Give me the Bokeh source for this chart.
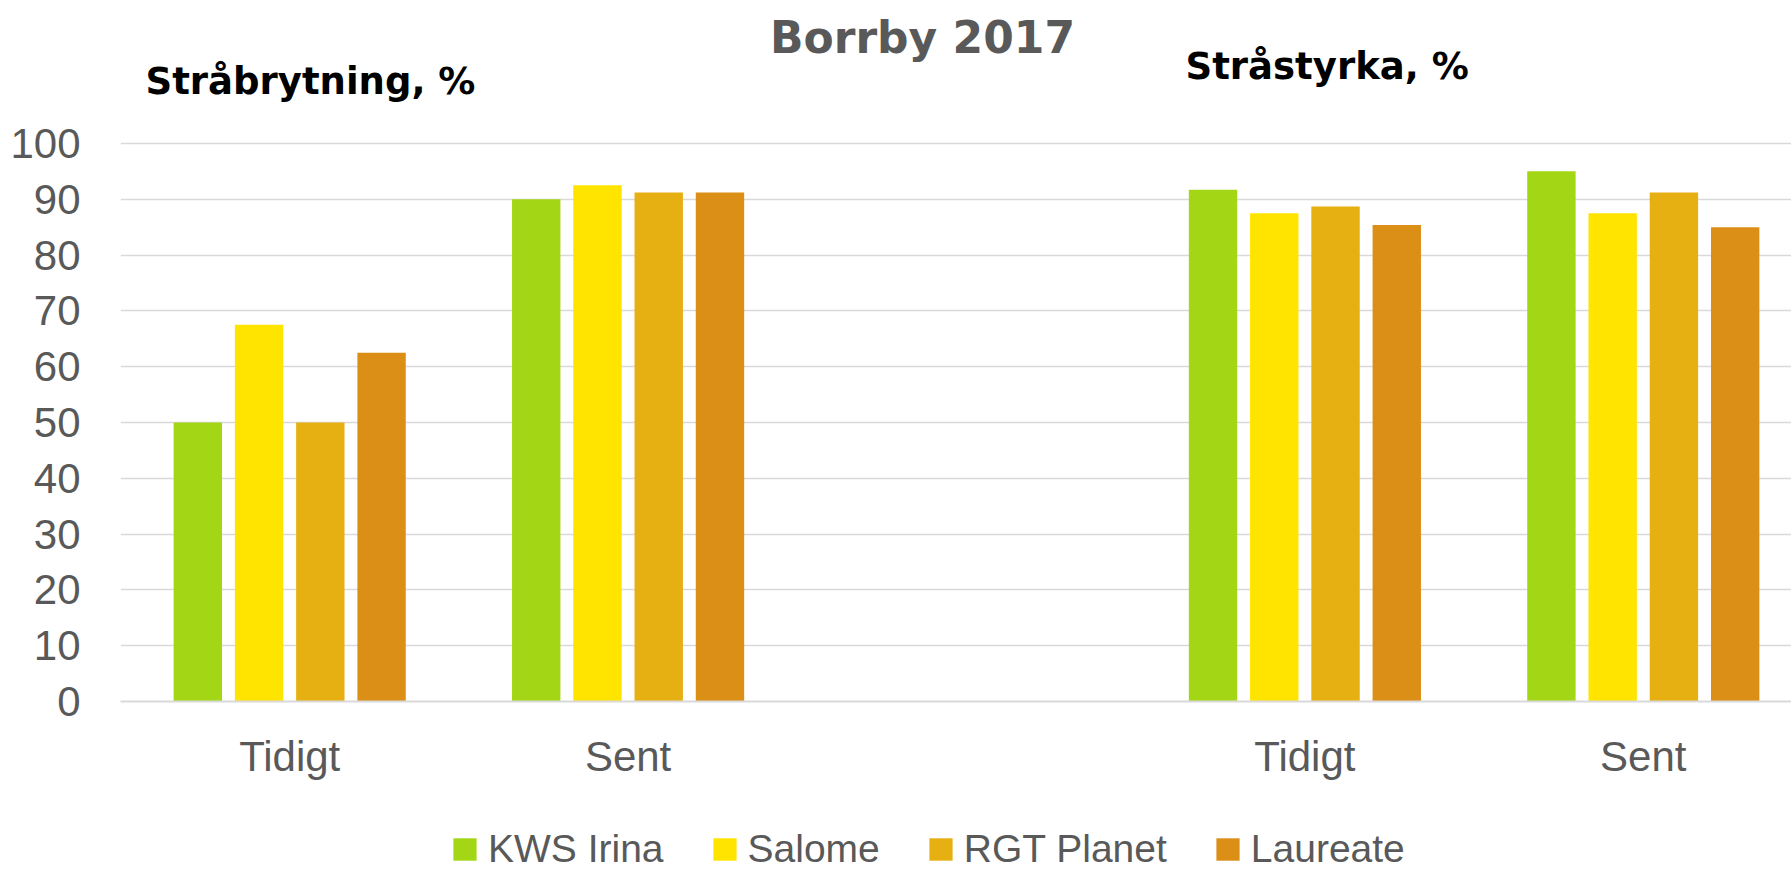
from bokeh.plotting import figure
from bokeh.layouts import column
from bokeh.models import Range1d, FixedTicker, Legend, LegendItem, Label
from bokeh.embed import file_html
from bokeh.resources import INLINE

# ---------------- data ----------------
chart_title = "Borrby 2017"
panel_titles = ["Stråbrytning, %", "Stråstyrka, %"]
categories = ["Tidigt", "Sent", "", "Tidigt", "Sent"]
series_names = ["KWS Irina", "Salome", "RGT Planet", "Laureate"]
kws_irina = [50.0, 90.0, None, 91.7, 95.0]
salome = [67.5, 92.5, None, 87.5, 87.5]
rgt_planet = [50.0, 91.2, None, 88.7, 91.2]
laureate = [62.5, 91.2, None, 85.4, 85.0]
series_values = [kws_irina, salome, rgt_planet, laureate]
colors = ["#A3D614", "#FFE400", "#E6AF12", "#DC8F16"]
y_ticks = list(range(0, 101, 10))

W = 1791
H_HEAD, H_MAIN, H_FOOT = 110, 680, 81
LEFT, TOP, BOTTOM = 120, 31, 89

# ---------------- header (titles) ----------------
head = figure(width=W, height=H_HEAD, output_backend="svg", toolbar_location=None,
              x_range=Range1d(0, 1), y_range=Range1d(0, 1),
              x_axis_location=None, y_axis_location=None, min_border=0)
head.outline_line_color = None
head.grid.visible = False
# the column aligns the header's frame with the chart frame (which starts at x = LEFT)
def head_label(text, px, baseline_from_top, size, color, align):
    head.add_layout(Label(x=px - LEFT, y=H_HEAD - baseline_from_top, x_units="screen", y_units="screen",
                          text=text, text_align=align, text_baseline="alphabetic",
                          text_font="DejaVu Sans", text_font_style="bold",
                          text_font_size=size, text_color=color))

head_label(chart_title, 922, 52 - 15, "44px", "#595959", "center")
head_label(panel_titles[0], 145, 90 - 9, "37px", "black", "left")
head_label(panel_titles[1], 1185, 75 - 9, "37px", "black", "left")

# ---------------- main chart ----------------
cat_px = 338.4
x_end = (W - LEFT) / cat_px

p = figure(width=W, height=H_MAIN, output_backend="svg", toolbar_location=None,
           x_range=Range1d(0, x_end), y_range=Range1d(0, 100.35),
           min_border_left=LEFT, min_border_right=0,
           min_border_top=TOP, min_border_bottom=BOTTOM)
p.outline_line_color = None

bar_w = 0.143
step = 0.181

def bar_xy(i, vals):
    xs = [j + 0.5 + (i - 1.5) * step for j, v in enumerate(vals) if v is not None]
    tops = [v for v in vals if v is not None]
    return xs, tops

for i, (vals, col) in enumerate(zip(series_values, colors)):
    xs, tops = bar_xy(i, vals)
    p.vbar(x=xs, top=tops, bottom=0, width=bar_w, fill_color=col, line_color=None)

tick_pos = [j + 0.5 for j, c in enumerate(categories) if c]
p.xaxis.ticker = FixedTicker(ticks=tick_pos)
p.xaxis.major_label_overrides = {j + 0.5: c for j, c in enumerate(categories) if c}
p.xaxis.axis_line_color = "#D9D9D9"
p.xaxis.axis_line_width = 2
p.xaxis.major_tick_line_color = None
p.xaxis.minor_tick_line_color = None
p.xaxis.major_label_standoff = 25
p.xaxis.major_label_text_font = "Liberation Sans"
p.xaxis.major_label_text_font_size = "42px"
p.xaxis.major_label_text_color = "#595959"

p.yaxis.ticker = FixedTicker(ticks=y_ticks)
p.yaxis.axis_line_color = None
p.yaxis.major_tick_line_color = None
p.yaxis.minor_tick_line_color = None
p.yaxis.major_tick_out = 0
p.yaxis.major_label_standoff = 40
p.yaxis.major_label_text_font = "Liberation Sans"
p.yaxis.major_label_text_font_size = "42px"
p.yaxis.major_label_text_color = "#595959"

p.xgrid.grid_line_color = None
p.ygrid.ticker = FixedTicker(ticks=y_ticks[1:])
p.ygrid.grid_line_color = "#D9D9D9"
p.ygrid.grid_line_width = 1.5

# ---------------- footer (legend) ----------------
foot = figure(width=W, height=H_FOOT, output_backend="svg", toolbar_location=None,
              x_range=Range1d(0, x_end), y_range=Range1d(0, 100),
              x_axis_location=None, y_axis_location=None, min_border=0)
foot.outline_line_color = None
foot.grid.visible = False
proxies = []
for i, (vals, col) in enumerate(zip(series_values, colors)):
    xs, tops = bar_xy(i, vals)
    proxies.append(foot.vbar(x=xs, top=tops, bottom=0, width=bar_w, fill_color=col,
                             line_color=None, visible=False))
legend = Legend(items=[LegendItem(label=n, renderers=[r]) for n, r in zip(series_names, proxies)],
                location=(330, 0), orientation="horizontal",
                glyph_width=29, glyph_height=28, label_standoff=9, spacing=46,
                padding=0, margin=0, border_line_color=None, background_fill_alpha=0,
                label_text_font="Liberation Sans", label_text_font_size="39px",
                label_text_line_height=0.72,
                label_text_color="#595959")
foot.add_layout(legend)

open("out.html", "w").write(file_html(column(head, p, foot, spacing=0), INLINE))
